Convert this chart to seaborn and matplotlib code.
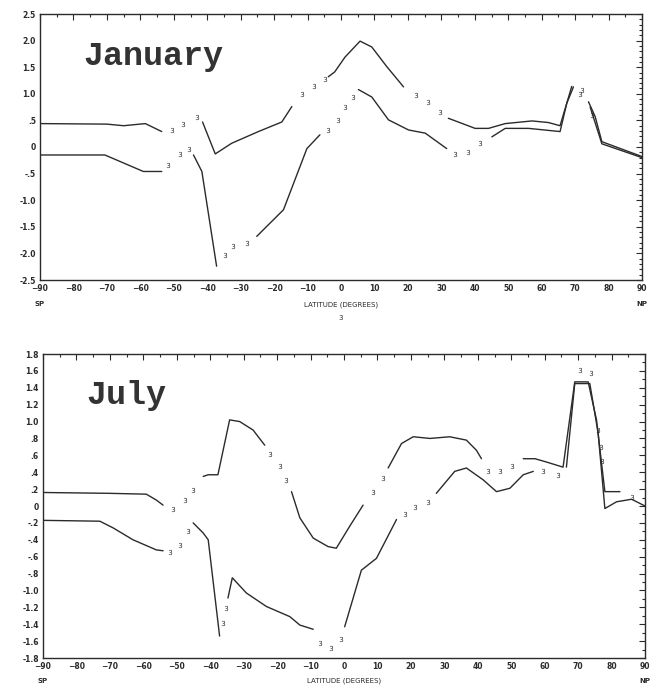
import pandas as pd
import matplotlib
matplotlib.use('Agg')
import matplotlib.pyplot as plt
import matplotlib.transforms as mtrans
from matplotlib.ticker import MultipleLocator, FuncFormatter
import seaborn as sns

# Solid pieces of each curve are separated by None; the "3" marked gaps are kept apart
# January, upper curve
jan_a_lat = [-90, -70, -65, -58.5, -53.6, None,
             -41.4, -37.6, -32.7, -24.7, -17.7, -14.7, None,
             -3.8, -1.9, 1.2, 5.7, 9.2, 13.7, 18.7, None,
             32.1, 40.1, 44.1, 49.1, 57.1, 62.0, 65.5, 69.0, None,
             74.0, 76.0, 78.0, 90]
jan_a_val = [0.44, 0.43, 0.40, 0.44, 0.29, None,
             0.47, -0.13, 0.07, 0.29, 0.47, 0.76, None,
             1.32, 1.41, 1.69, 1.99, 1.88, 1.51, 1.13, None,
             0.54, 0.35, 0.35, 0.44, 0.49, 0.46, 0.40, 1.14, None,
             0.85, 0.57, 0.10, -0.18]
jan_a_dot_lat = [-50.6, -47.3, -43.1, -11.6, -8.2, -4.9, 22.4, 26.0, 29.6, 72.0]
jan_a_dot_val = [0.32, 0.44, 0.57, 1.00, 1.14, 1.27, 0.98, 0.85, 0.66, 1.07]

# January, lower curve
jan_b_lat = [-90, -70.6, -59.1, -53.6, None,
             -44.1, -41.6, -37.2, None,
             -25.2, -17.2, -10.2, -6.3, None,
             5.2, 9.2, 14.2, 20.2, 25.2, 31.6, None,
             45.1, 49.1, 56.1, 65.5, 67.5, 69.5, None,
             74.5, 78.0, 90]
jan_b_val = [-0.15, -0.15, -0.46, -0.46, None,
             -0.15, -0.46, -2.24, None,
             -1.68, -1.18, -0.03, 0.23, None,
             1.08, 0.94, 0.51, 0.32, 0.26, -0.03, None,
             0.19, 0.35, 0.35, 0.29, 0.82, 1.13, None,
             0.75, 0.06, -0.20]
jan_b_dot_lat = [-51.6, -48.1, -45.4, -34.7, -32.2, -28.2, -3.8, -0.8, 1.2, 3.7,
                 34.1, 38.1, 41.6, 71.5, 75.0]
jan_b_dot_val = [-0.34, -0.13, -0.03, -2.03, -1.87, -1.81, 0.32, 0.51, 0.76, 0.94,
                 -0.13, -0.09, 0.07, 1.00, 0.60]

# July, upper curve
jul_a_lat = [-90, -70, -59.1, -56.1, -54.1, None,
             -42.1, -40.6, -37.7, -34.2, -31.2, -27.2, -23.7, None,
             -15.7, -13.2, -9.2, -4.8, -2.3, 1.7, 5.7, None,
             13.2, 17.2, 20.7, 25.7, 31.6, 36.6, 39.6, 41.1, None,
             53.6, 57.1, 60.6, 65.5, 69.0, 73.0, 75.5, 78.0, 82.5]
jul_a_val = [0.16, 0.15, 0.14, 0.07, 0.01, None,
             0.35, 0.37, 0.37, 1.02, 1.00, 0.90, 0.72, None,
             0.17, -0.14, -0.38, -0.48, -0.50, -0.24, 0.01, None,
             0.45, 0.74, 0.82, 0.80, 0.82, 0.78, 0.66, 0.56, None,
             0.56, 0.56, 0.52, 0.46, 1.47, 1.47, 1.02, 0.17, 0.17]
jul_a_dot_lat = [-51.1, -47.6, -45.1, -22.2, -19.2, -17.2, 8.7, 11.7,
                 43.1, 46.6, 50.1, 70.5, 74.0, 86.0]
jul_a_dot_val = [-0.03, 0.07, 0.19, 0.61, 0.47, 0.31, 0.17, 0.33,
                 0.42, 0.41, 0.47, 1.61, 1.57, 0.11]

# July, lower curve
jul_b_lat = [-90, -73, -69, -63.1, -56.1, -54.1, None,
             -45.1, -42.1, -40.6, -37.2, None,
             -34.7, -33.4, -29.2, -23.2, -16.2, -13.2, -9.2, None,
             0.2, 5.2, 9.7, 15.7, None,
             27.6, 33.1, 36.6, 41.6, 45.6, 49.6, 53.6, 56.6, None,
             66.5, 69.0, 73.5, 76.0, 78.0, 81.5, 86.0, 90]
jul_b_val = [-0.17, -0.18, -0.26, -0.40, -0.52, -0.53, None,
             -0.20, -0.32, -0.40, -1.54, None,
             -1.09, -0.85, -1.03, -1.19, -1.31, -1.41, -1.46, None,
             -1.43, -0.76, -0.62, -0.16, None,
             0.15, 0.41, 0.45, 0.31, 0.17, 0.21, 0.37, 0.41, None,
             0.46, 1.45, 1.45, 0.86, -0.03, 0.05, 0.08, 0.00]
jul_b_dot_lat = [-52.1, -49.1, -46.6, -36.2, -35.2, -7.2, -3.8, -0.8,
                 18.2, 21.2, 25.2, 59.6, 64.1, 76.0, 76.8, 77.2]
jul_b_dot_val = [-0.54, -0.46, -0.30, -1.39, -1.21, -1.62, -1.68, -1.58,
                 -0.09, -0.01, 0.05, 0.41, 0.37, 0.90, 0.70, 0.53]

lat_ticks = list(range(-90, 91, 10))
ink = '#2b2b2b'


def to_frame(lat, val):
    rows, seg = [], 0
    for x, y in zip(lat, val):
        if x is None:
            seg += 1
            continue
        rows.append((x, y, seg))
    return pd.DataFrame(rows, columns=['lat', 'val', 'seg'])


def fmt(v, pos):
    if abs(v) < 1e-9:
        return '0'
    s = f'{v:.1f}'
    return s.replace('0.', '.') if s.lstrip('-').startswith('0.') else s


def draw_curve(ax, lat, val, dot_lat, dot_val):
    df = to_frame(lat, val)
    sns.lineplot(data=df, x='lat', y='val', units='seg', estimator=None,
                 color=ink, lw=1.0, ax=ax, legend=False)
    sns.scatterplot(x=dot_lat, y=dot_val, marker='$3$', s=14, color=ink,
                    linewidth=0, ax=ax, legend=False)


def style_axes(ax, ylim, ymajor, name, name_y, xlabel_y):
    ax.set_xlim(-90, 90)
    ax.set_ylim(*ylim)
    ax.set_xticks(lat_ticks)
    ax.xaxis.set_minor_locator(MultipleLocator(5))
    ax.yaxis.set_major_locator(MultipleLocator(ymajor))
    ax.yaxis.set_minor_locator(MultipleLocator(0.1))
    ax.yaxis.set_major_formatter(FuncFormatter(fmt))
    ax.tick_params(which='both', direction='in', top=True, right=True,
                   color=ink, labelsize=5.5, labelcolor=ink, width=0.8)
    ax.tick_params(which='major', length=4, pad=3)
    ax.tick_params(which='minor', length=2)
    for lab in ax.get_xticklabels() + ax.get_yticklabels():
        lab.set_fontweight('bold')
    for sp in ax.spines.values():
        sp.set_color(ink)
        sp.set_linewidth(1.0)
    ax.set_xlabel('')
    ax.set_ylabel('')
    trans = mtrans.blended_transform_factory(ax.transData, ax.transAxes)
    ax.text(-90, xlabel_y, 'SP', transform=trans, ha='center', va='top',
            fontsize=5, fontweight='bold', color=ink)
    ax.text(90, xlabel_y, 'NP', transform=trans, ha='center', va='top',
            fontsize=5, fontweight='bold', color=ink)
    ax.text(0, xlabel_y, 'LATITUDE (DEGREES)', transform=trans, ha='center',
            va='top', fontsize=5, color=ink)
    ax.text(0.072, name_y, name, transform=ax.transAxes, ha='left', va='center',
            fontsize=24, fontfamily='Liberation Mono', fontweight='bold',
            color='#333333')


sns.set_style('white')
fig = plt.figure(figsize=(6.6, 6.92), dpi=100)
fig.patch.set_facecolor('white')

ax1 = fig.add_axes([40 / 660, 1 - 280 / 692, 602 / 660, 266 / 692])
draw_curve(ax1, jan_a_lat, jan_a_val, jan_a_dot_lat, jan_a_dot_val)
draw_curve(ax1, jan_b_lat, jan_b_val, jan_b_dot_lat, jan_b_dot_val)
style_axes(ax1, (-2.5, 2.5), 0.5, 'January', 0.84, -0.08)
ax1.text(0, -0.13, '3', transform=mtrans.blended_transform_factory(ax1.transData, ax1.transAxes),
         ha='center', va='top', fontsize=5, color=ink)

ax2 = fig.add_axes([43 / 660, 1 - 658 / 692, 602 / 660, 304 / 692])
draw_curve(ax2, jul_a_lat, jul_a_val, jul_a_dot_lat, jul_a_dot_val)
draw_curve(ax2, jul_b_lat, jul_b_val, jul_b_dot_lat, jul_b_dot_val)
style_axes(ax2, (-1.8, 1.8), 0.2, 'July', 0.865, -0.065)

fig.savefig('out.png', dpi=100, facecolor='white')
